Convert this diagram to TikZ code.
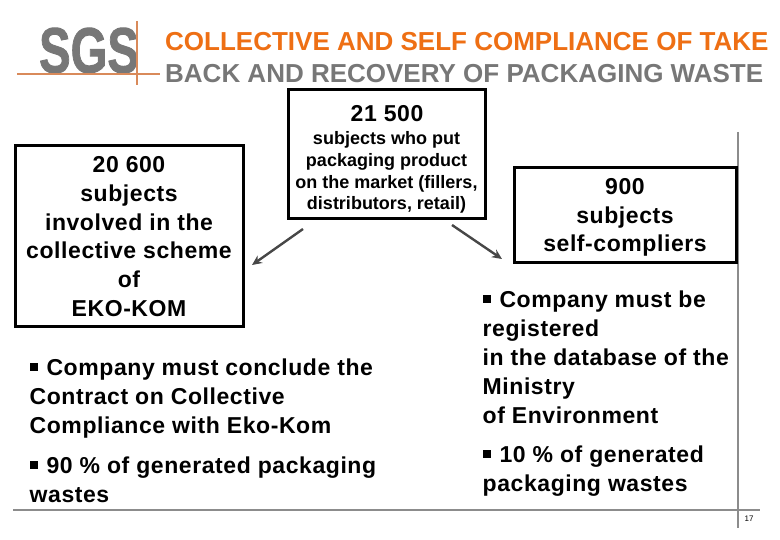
\documentclass[tikz,border=0pt]{standalone}
\usepackage{fontspec}
\usepackage{graphicx}
\setmainfont{Liberation Sans}[BoldFont={Liberation Sans Bold}]
\newfontfamily\spaced{Liberation Sans Bold}[LetterSpace=2.5]
\newfontfamily\logofont{Liberation Sans Bold}[FakeBold=1.5]
\newcommand{\fs}[2]{\fontsize{#1pt}{#2pt}\selectfont}
\newcommand{\sqb}{\raisebox{0.2em}{\rule{0.36em}{0.36em}}\hspace{0.07em}}
\definecolor{sgsorange}{HTML}{EE6F14}
\definecolor{sgsgray}{HTML}{777777}
\definecolor{sgsline}{HTML}{D98A5A}
\definecolor{rulegray}{HTML}{8C8C8C}
\usetikzlibrary{arrows.meta}
\tikzset{
  blackbox/.style={draw=black,line width=3pt,fill=white},
  body/.style={inner sep=0pt,align=left,anchor=north west,font=\spaced\fs{23}{29},text=black},
  boxtext/.style={inner sep=0pt,align=center,anchor=center,text=black},
  arrowline/.style={draw=black!72,line width=2.4pt,-{Stealth[length=10pt,width=9pt]}},
  title/.style={inner sep=0pt,anchor=west,font=\bfseries\fs{26}{30}},
  logoline/.style={draw=sgsline,line width=1.3pt},
  ruleline/.style={draw=rulegray,line width=2.4pt}
}
\begin{document}
\begin{tikzpicture}[x=1pt,y=-1pt]
\useasboundingbox (0,0) rectangle (780,540);
% frame rules
\coordinate (vt) at (738,132); \coordinate (vb) at (738,528);
\coordinate (hl) at (13,510); \coordinate (hr) at (760,510);
\draw[ruleline] (vt) -- (vb);
\draw[ruleline] (hl) -- (hr);
% logo
\node[inner sep=0pt,anchor=center,text=sgsgray] (logo) at (89,50.5) {\scalebox{0.75}[1.02]{\logofont\fs{63}{63}SGS}};
\coordinate (lh1) at (17,74); \coordinate (lh2) at (160,74);
\coordinate (lv1) at (137,21); \coordinate (lv2) at (137,85);
\draw[logoline] (lh1) -- (lh2);
\draw[logoline] (lv1) -- (lv2);
% title
\node[title,text=sgsorange] (t1) at (165,42) {COLLECTIVE AND SELF COMPLIANCE OF TAKE};
\node[title,text=sgsgray] (t2) at (165,74) {BACK AND RECOVERY OF PACKAGING WASTE};
% boxes
\draw[blackbox] (288,90) rectangle (485,218.5);
\draw[blackbox] (15,146) rectangle (243,327);
\draw[blackbox] (514,168) rectangle (736,263);
\node[boxtext,font=\spaced\fs{23}{29}] (n21) at (387,114) {21 500};
\node[boxtext,font=\bfseries\fs{18}{21.7}] (c) at (386.5,172.5) {subjects who put\\packaging product\\on the market (fillers,\\distributors, retail)};
\node[boxtext,font=\spaced\fs{23}{28.8}] (l) at (129,236.5) {20 600\\subjects\\involved in the\\collective scheme\\of\\EKO-KOM};
\node[boxtext,font=\spaced\fs{23}{28.8}] (r) at (625,217.5) {900\\subjects\\self-compliers};
% arrows
\coordinate (a1s) at (303,229); \coordinate (a1e) at (252,265);
\coordinate (a2s) at (452,225); \coordinate (a2e) at (502,259);
\draw[arrowline] (a1s) -- (a1e);
\draw[arrowline] (a2s) -- (a2e);
% body
\node[body] (b1) at (29.5,359) {\sqb{} Company must conclude the\\Contract on Collective\\Compliance with Eko-Kom};
\node[body] (b2) at (29.5,457) {\sqb{} 90 \% of generated packaging\\wastes};
\node[body] (b3) at (482.5,291) {\sqb{} Company must be\\registered\\in the database of the\\Ministry\\of Environment};
\node[body] (b4) at (482.5,446) {\sqb{} 10 \% of generated\\packaging wastes};
% page number
\node[inner sep=0pt,font=\fs{8}{9},text=black] (pg) at (749,519) {17};
\end{tikzpicture}
\end{document}
